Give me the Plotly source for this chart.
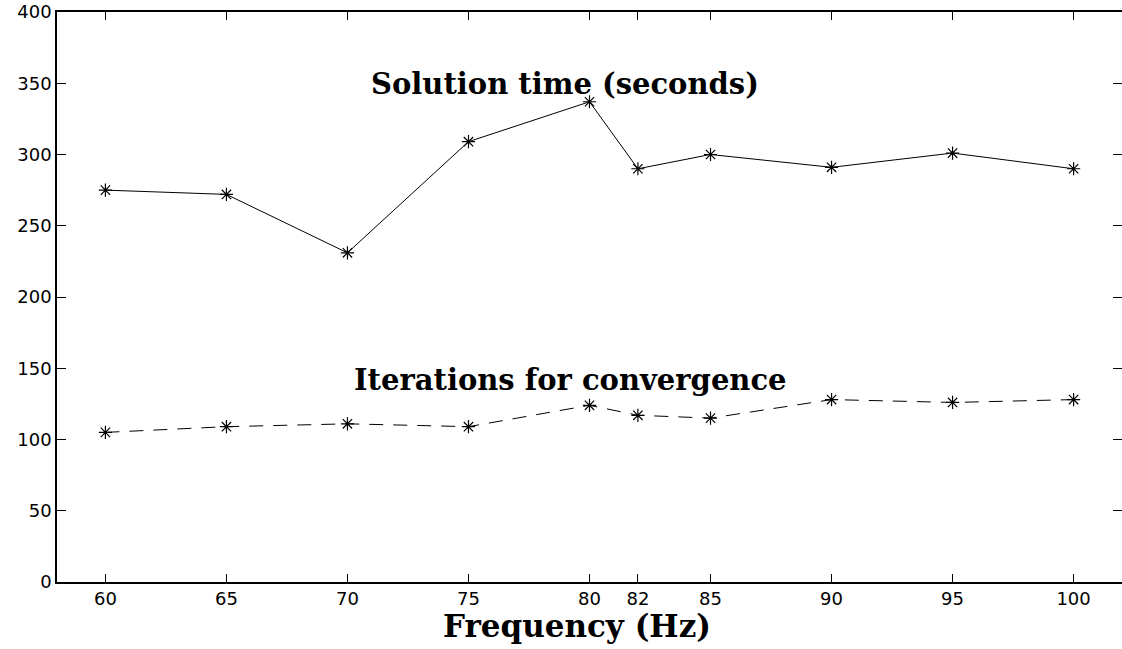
import plotly.graph_objects as go

freq = [60, 65, 70, 75, 80, 82, 85, 90, 95, 100]
solution_time = [275, 272, 231, 309, 337, 290, 300, 291, 301, 290]
iterations = [105, 109, 111, 109, 124, 117, 115, 128, 126, 128]
x_ticks = [60, 65, 70, 75, 80, 82, 85, 90, 95, 100]
y_ticks = [0, 50, 100, 150, 200, 250, 300, 350, 400]

fig = go.Figure()
fig.add_trace(go.Scatter(
    x=freq, y=solution_time, mode="lines+markers",
    line=dict(color="black", width=1),
    marker=dict(symbol="asterisk-open", size=11, color="black", line=dict(color="black", width=1.2)),
    showlegend=False))
fig.add_trace(go.Scatter(
    x=freq, y=iterations, mode="lines+markers",
    line=dict(color="black", width=1, dash="14px,10px"),
    marker=dict(symbol="asterisk-open", size=11, color="black", line=dict(color="black", width=1.2)),
    showlegend=False))

serif = "DejaVu Serif"
fig.add_annotation(x=79.0, y=349.5, text="<b>Solution time (seconds)</b>", showarrow=False,
                   font=dict(family=serif, size=29, color="black"))
fig.add_annotation(x=79.2, y=142, text="<b>Iterations for convergence</b>", showarrow=False,
                   font=dict(family=serif, size=29, color="black"))
fig.add_annotation(xref="paper", yref="paper", x=0.488, y=-0.042, yanchor="top",
                   text="<b>Frequency (Hz)</b>", showarrow=False,
                   font=dict(family=serif, size=31, color="black"))

fig.update_xaxes(range=[58, 102], tickvals=x_ticks, ticktext=[str(v) for v in x_ticks],
                 showline=True, linecolor="black", linewidth=1.5, mirror="allticks",
                 ticks="inside", ticklen=8, tickcolor="black", tickwidth=1,
                 showgrid=False, zeroline=False,
                 tickfont=dict(family="DejaVu Sans", size=18, color="black"))
fig.update_yaxes(range=[0, 400], tickvals=y_ticks,
                 showline=True, linecolor="black", linewidth=1.5, mirror="allticks",
                 ticks="inside", ticklen=9, tickcolor="black", tickwidth=1,
                 showgrid=False, zeroline=False,
                 tickfont=dict(family="DejaVu Sans", size=18, color="black"))
fig.update_layout(width=1122, height=649, plot_bgcolor="white", paper_bgcolor="white",
                  margin=dict(l=57, r=0, t=12, b=67, autoexpand=False))
fig.write_html("out.html", config={"displayModeBar": False},
               post_script="document.body.style.margin='0';")
